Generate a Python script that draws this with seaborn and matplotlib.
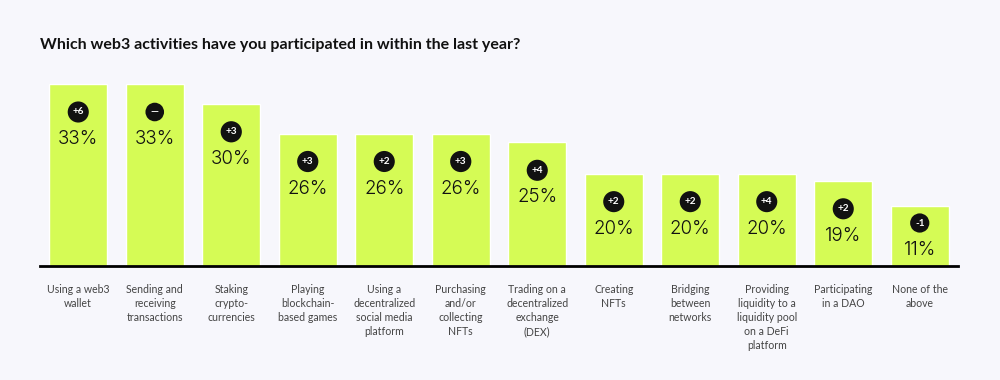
import matplotlib
matplotlib.use("Agg")
import matplotlib.pyplot as plt
import seaborn as sns
import pandas as pd

# ---- data ----
categories = [
    "Using a web3\nwallet",
    "Sending and\nreceiving\ntransactions",
    "Staking\ncrypto-\ncurrencies",
    "Playing\nblockchain-\nbased games",
    "Using a\ndecentralized\nsocial media\nplatform",
    "Purchasing\nand/or\ncollecting\nNFTs",
    "Trading on a\ndecentralized\nexchange\n(DEX)",
    "Creating\nNFTs",
    "Bridging\nbetween\nnetworks",
    "Providing\nliquidity to a\nliquidity pool\non a DeFi\nplatform",
    "Participating\nin a DAO",
    "None of the\nabove",
]
percent_labels = [33, 33, 30, 26, 26, 26, 25, 20, 20, 20, 19, 11]
# bar heights as drawn in the picture (same scale as %; the original is not strictly proportional)
bar_heights = [33.0, 33.0, 29.4, 24.0, 24.0, 24.0, 22.4, 16.7, 16.7, 16.7, 15.4, 10.9]
changes = ["+6", "\u2014", "+3", "+3", "+2", "+3", "+4", "+2", "+2", "+4", "+2", "-1"]

title = "Which web3 activities have you participated in within the last year?"

BG = "#F7F7FC"
BAR = "#D5FB55"

sns.set_theme(style="white")
plt.rcParams["font.family"] = ["Lato", "DejaVu Sans"]

W, H, DPI = 1000, 380, 100
fig = plt.figure(figsize=(W / DPI, H / DPI), dpi=DPI, facecolor=BG)

px_per_unit = 5.5
base_px = 265.5
top_px = 60
ax = fig.add_axes([40 / W, (H - base_px) / H, 918 / W, (base_px - top_px) / H])
ax.set_facecolor(BG)

df = pd.DataFrame({"cat": categories, "h": bar_heights})
sns.barplot(data=df, x="cat", y="h", color=BAR, width=0.757, saturation=1,
            ax=ax, zorder=2)
ax.set_xlim(-0.5, 11.5)
ax.set_ylim(0, (base_px - top_px) / px_per_unit)

for s in ["top", "right", "left"]:
    ax.spines[s].set_visible(False)
ax.spines["bottom"].set_color("black")
ax.spines["bottom"].set_linewidth(2)
ax.spines["bottom"].set_zorder(3)
ax.set_yticks([])
ax.set_xlabel("")
ax.set_ylabel("")
ax.tick_params(axis="x", length=0, pad=13, labelsize=7.6, labelcolor="#444444")
for lbl in ax.get_xticklabels():
    lbl.set_linespacing(1.35)
    lbl.set_ha("center")
    lbl.set_va("top")

for i, (h, p, c) in enumerate(zip(bar_heights, percent_labels, changes)):
    bar_px = h * px_per_unit
    text_off = -min(55, bar_px - 15.5)  # pixels from top of bar
    ax.annotate(f"{p}%", xy=(i, h), xytext=(0, text_off), textcoords="offset pixels",
                ha="center", va="center", fontsize=13.5, fontweight=300,
                family=["Inter", "Lato", "DejaVu Sans"],
                color="#111111", zorder=4)
    ax.annotate(c, xy=(i, h), xytext=(0, text_off + 27), textcoords="offset pixels",
                ha="center", va="center", fontsize=7.2, fontweight="bold",
                color="white", zorder=5,
                bbox=dict(boxstyle="circle,pad=0.48", fc="#111111", ec="none"))

fig.text(40 / W, 1 - 45 / H, title, ha="left", va="center", fontsize=11.5,
         fontweight="bold", color="#111111")

fig.savefig("out.png", dpi=DPI, facecolor=BG)
